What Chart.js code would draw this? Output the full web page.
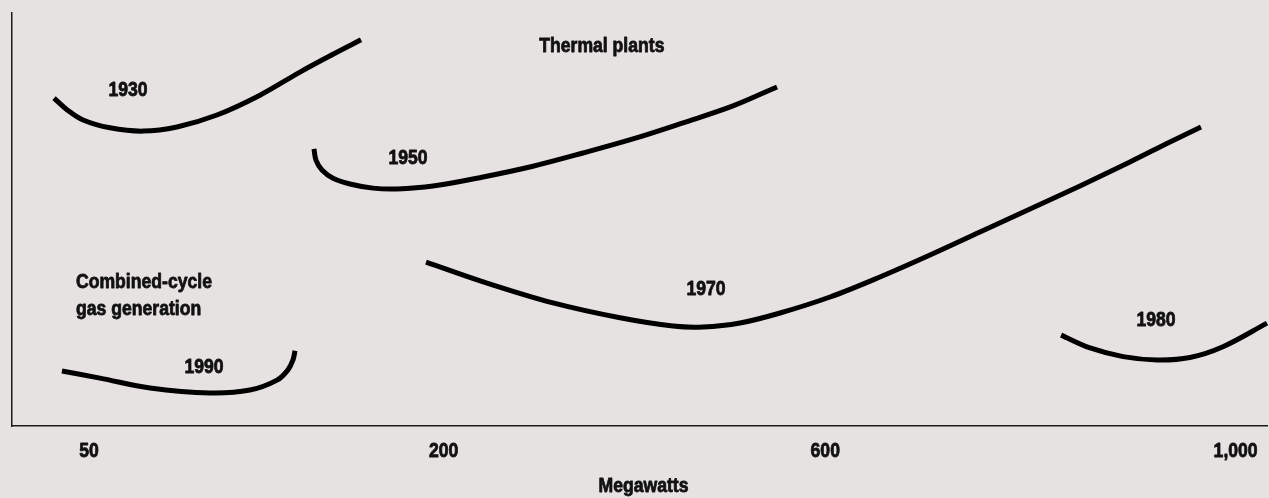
<!DOCTYPE html>
<html>
<head>
<meta charset="utf-8">
<script src="https://cdn.jsdelivr.net/npm/chart.js@4.4.1/dist/chart.umd.min.js"></script>
<style>
  html, body { margin: 0; padding: 0; background: #e7e2e2; }
  #wrap { width: 1269px; height: 498px; position: relative; }
</style>
</head>
<body>
<div id="wrap"><canvas id="c"></canvas></div>
<script>
// X axis: relative position units (0-100); tick labels in megawatts
const tickPositions = [6.14, 34.4, 64.8, 97.5];
const tickLabels = ['50', '200', '600', '1,000'];
const axisTitle = 'Megawatts';

// Curves (x = position units, y = relative cost index 0-100)
const x1930 = [3.35, 4.38, 5.66, 7.81, 10.44, 13.15, 16.33, 19.76, 22.95, 25.58, 27.81];
const y1930 = [79.4, 76.6, 74.1, 72.2, 71.4, 72.4, 75.3, 80.1, 85.7, 90.0, 93.5];

const x1950 = [24.06, 24.22, 24.70, 25.58, 26.93, 28.76, 30.68, 33.55, 37.53, 41.51, 45.50, 49.48, 53.47, 57.45, 60.96];
const y1950 = [67.1, 64.4, 62.0, 60.0, 58.6, 57.6, 57.4, 58.1, 60.3, 62.9, 66.1, 69.5, 73.4, 77.5, 82.1];

const x1970 = [32.99, 37.85, 43.11, 48.45, 52.67, 55.06, 58.01, 61.20, 65.18, 69.16, 73.15, 77.13, 81.12, 85.10, 89.08, 92.27, 94.74];
const y1970 = [39.7, 34.6, 29.8, 26.2, 24.2, 23.97, 24.94, 27.36, 31.23, 36.08, 41.40, 46.97, 52.54, 58.11, 63.92, 68.77, 72.40];

const x1980 = [83.59, 85.90, 88.53, 91.24, 93.86, 96.49, 100.0];
const y1980 = [22.0, 18.9, 16.8, 16.0, 16.6, 19.2, 24.9];

const x1990 = [3.98, 7.01, 11.0, 15.78, 18.96, 21.12, 21.99, 22.39, 22.55];
const y1990 = [13.3, 11.6, 9.2, 8.0, 8.7, 11.1, 13.6, 16.0, 18.2];

// Text labels (x, y = baseline, in data units)
const labelTexts = ['Thermal plants', '1930', '1950', '1970', '1980', '1990', 'Combined-cycle', 'gas generation'];
const labelX = [47.0, 9.24, 31.55, 55.3, 91.16, 15.3, 5.1, 5.1];
const labelY = [90.6, 79.9, 63.4, 31.7, 24.2, 12.8, 33.4, 26.9];
const labelAlign = ['center', 'center', 'center', 'center', 'center', 'center', 'left', 'left'];

const FONT = "'Liberation Sans', Arial, sans-serif";
const FONT_SIZE = 20;
const SCALE_X = 0.88;   // condensed look
const INK = '#111111';

function pts(xs, ys) { return xs.map((x, i) => ({ x: x, y: ys[i] })); }
function ds(xs, ys) {
  return {
    data: pts(xs, ys),
    borderColor: '#000000',
    borderWidth: 5,
    borderCapStyle: 'butt',
    pointRadius: 0,
    tension: 0.35,
    fill: false,
    clip: false
  };
}

function drawText(ctx, text, x, y, align) {
  ctx.save();
  ctx.translate(x, y);
  ctx.scale(SCALE_X, 1);
  ctx.textAlign = align;
  ctx.textBaseline = 'alphabetic';
  ctx.strokeText(text, 0, 0);
  ctx.fillText(text, 0, 0);
  ctx.restore();
}

const textPlugin = {
  id: 'textLabels',
  afterDraw(chart) {
    const { ctx, scales, chartArea } = chart;
    ctx.save();
    ctx.fillStyle = INK;
    ctx.strokeStyle = INK;
    ctx.lineWidth = 0.8;
    ctx.lineJoin = 'round';
    ctx.font = 'bold ' + FONT_SIZE + 'px ' + FONT;
    labelTexts.forEach((t, i) => {
      drawText(ctx, t, scales.x.getPixelForValue(labelX[i]), scales.y.getPixelForValue(labelY[i]), labelAlign[i]);
    });
    // x-axis tick labels at the scale's ticks
    scales.x.ticks.forEach((tk, i) => {
      drawText(ctx, tickLabels[i], scales.x.getPixelForValue(tk.value), chartArea.bottom + 31, 'center');
    });
    // axis title
    drawText(ctx, axisTitle, (chartArea.left + chartArea.right) / 2 + 4, chartArea.bottom + 66, 'center');
    ctx.restore();
  }
};

new Chart(document.getElementById('c'), {
  type: 'line',
  data: {
    datasets: [ds(x1930, y1930), ds(x1950, y1950), ds(x1970, y1970), ds(x1980, y1980), ds(x1990, y1990)]
  },
  options: {
    responsive: true,
    maintainAspectRatio: false,
    animation: false,
    layout: { padding: { left: 12, top: 13, right: 2, bottom: 0 } },
    plugins: { legend: { display: false }, tooltip: { enabled: false } },
    scales: {
      x: {
        type: 'linear',
        min: 0,
        max: 100,
        afterBuildTicks: (s) => { s.ticks = tickPositions.map(v => ({ value: v })); },
        afterFit: (s) => { s.height = 72; s.paddingLeft = 0; s.paddingRight = 0; },
        grid: { display: false, drawTicks: false },
        border: { display: true, color: '#1a1a1a', width: 1.5 },
        ticks: { display: false, autoSkip: false, maxRotation: 0 }
      },
      y: {
        type: 'linear',
        min: 0,
        max: 100,
        afterFit: (s) => { s.width = 0; },
        grid: { display: false, drawTicks: false },
        border: { display: true, color: '#1a1a1a', width: 1.5 },
        ticks: { display: false }
      }
    }
  },
  plugins: [textPlugin]
});
</script>
</body>
</html>
